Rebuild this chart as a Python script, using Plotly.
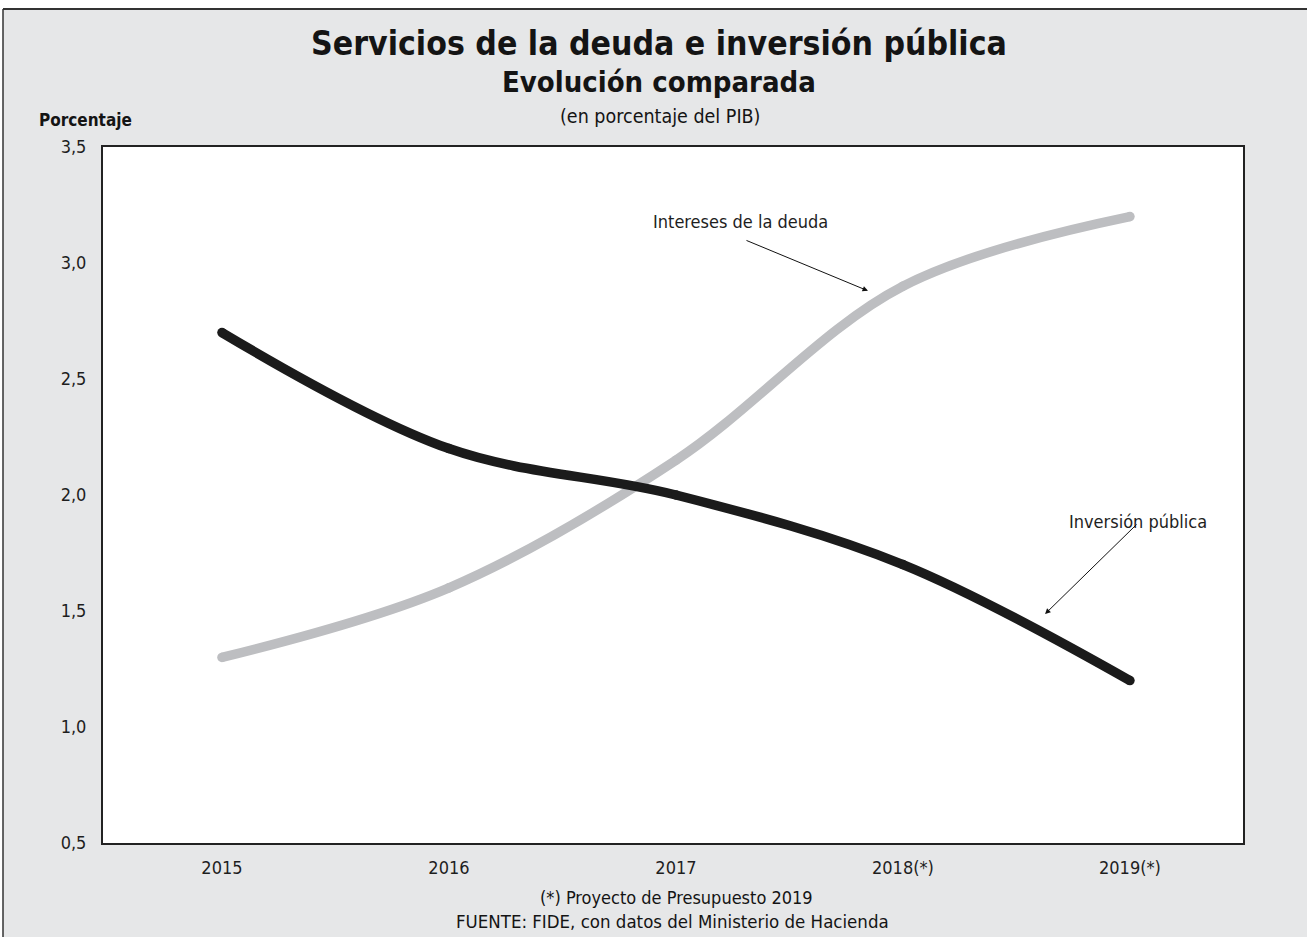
import plotly.graph_objects as go

# Series data (% of GDP)
years = ["2015", "2016", "2017", "2018(*)", "2019(*)"]
intereses = [1.3, 1.6, 2.15, 2.9, 3.2]
inversion = [2.7, 2.2, 2.0, 1.7, 1.2]
y_ticks = [0.5, 1.0, 1.5, 2.0, 2.5, 3.0, 3.5]
y_tick_labels = ["0,5", "1,0", "1,5", "2,0", "2,5", "3,0", "3,5"]

W, H = 1307, 937
L, R, T, B = 103, 64, 147, 94
NARROW = "'Liberation Sans Narrow', 'DejaVu Sans Condensed', 'Liberation Sans', sans-serif"
BG = "#e6e7e8"


def px_x(px):
    return (px - L) / (W - L - R)


def px_y(py):
    return (H - B - py) / (H - T - B)


fig = go.Figure()

fig.add_trace(go.Scatter(
    x=years, y=intereses, mode="lines+markers", name="Intereses de la deuda",
    line=dict(color="#bdbec1", width=9.5, shape="spline", smoothing=1.0),
    marker=dict(color="#bdbec1", size=9.5),
    hoverinfo="skip",
))
fig.add_trace(go.Scatter(
    x=years, y=inversion, mode="lines+markers", name="Inversión pública",
    line=dict(color="#1b1b1b", width=9.5, shape="spline", smoothing=1.0),
    marker=dict(color="#1b1b1b", size=9.5),
    hoverinfo="skip",
))

font_tick = dict(family=NARROW, size=18, color="#1e1e1e")
font_lbl = dict(family=NARROW, size=18, color="#1e1e1e")


def paper_text(text, cx, cy, size, bold=False):
    return dict(text=f"<b>{text}</b>" if bold else text, x=px_x(cx), y=px_y(cy),
                xref="paper", yref="paper", xanchor="center", yanchor="middle",
                showarrow=False, font=dict(family=NARROW, size=size, color="#141414"))


annotations = [
    # titles
    paper_text("Servicios de la deuda e inversión pública", 659, 43, 33.5, bold=True),
    paper_text("Evolución comparada", 659, 82, 29, bold=True),
    paper_text("(en porcentaje del PIB)", 660, 116, 19.5),
    paper_text("<b>Porcentaje</b>", 85, 120, 17),
    # footer
    paper_text("(*) Proyecto de Presupuesto 2019", 676, 897, 18),
    paper_text("FUENTE: FIDE, con datos del Ministerio de Hacienda", 672, 922, 18.5),
    # series labels with arrows
    dict(text="Intereses de la deuda", x=2.286, y=3.18, xref="x", yref="y",
         xanchor="center", yanchor="middle", showarrow=False, font=font_lbl),
    dict(text="", x=2.846, y=2.88, xref="x", yref="y", showarrow=True,
         ax=-123, ay=-51, arrowhead=2, arrowsize=1.1, arrowwidth=1, arrowcolor="#111111"),
    dict(text="Inversión pública", x=4.035, y=1.885, xref="x", yref="y",
         xanchor="center", yanchor="middle", showarrow=False, font=font_lbl),
    dict(text="", x=3.626, y=1.487, xref="x", yref="y", showarrow=True,
         ax=93, ay=-91, arrowhead=2, arrowsize=1.1, arrowwidth=1, arrowcolor="#111111"),
]

shapes = [
    # white margin strips around the grey panel
    dict(type="rect", xref="paper", yref="paper", x0=px_x(-5), x1=px_x(W + 5),
         y0=px_y(9), y1=px_y(-5), fillcolor="white", line=dict(width=0), layer="above"),
    dict(type="rect", xref="paper", yref="paper", x0=px_x(-5), x1=px_x(3),
         y0=px_y(H + 5), y1=px_y(9), fillcolor="white", line=dict(width=0), layer="above"),
    # panel frame: top and left edges
    dict(type="line", xref="paper", yref="paper", x0=px_x(3), x1=px_x(W + 5),
         y0=px_y(9), y1=px_y(9), line=dict(color="#333333", width=2), layer="above"),
    dict(type="line", xref="paper", yref="paper", x0=px_x(3), x1=px_x(3),
         y0=px_y(9), y1=px_y(H + 5), line=dict(color="#333333", width=1.5), layer="above"),
]

fig.update_layout(
    width=W, height=H,
    margin=dict(l=L, r=R, t=T, b=B),
    paper_bgcolor=BG, plot_bgcolor="white",
    showlegend=False,
    annotations=annotations,
    shapes=shapes,
    xaxis=dict(
        type="category", range=[-0.524, 4.498],
        showgrid=False, zeroline=False,
        showline=True, mirror=True, linecolor="#222222", linewidth=2,
        ticks="", tickfont=font_tick, ticklabelstandoff=7,
    ),
    yaxis=dict(
        range=[0.5, 3.5], tickvals=y_ticks, ticktext=y_tick_labels,
        showgrid=False, zeroline=False,
        showline=True, mirror=True, linecolor="#222222", linewidth=2,
        ticks="", tickfont=font_tick, ticklabelstandoff=11,
    ),
)

fig.write_html("out.html")
